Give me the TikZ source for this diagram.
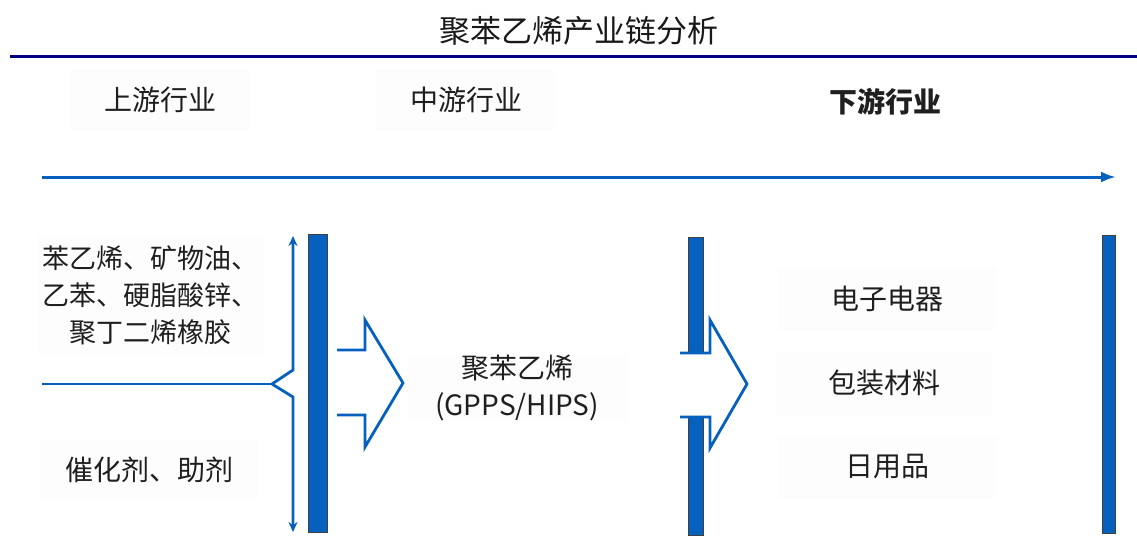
\documentclass[tikz,border=0pt]{standalone}
\usepackage{fontspec}
\setmainfont{Noto Sans CJK SC}
\usetikzlibrary{arrows.meta}
\definecolor{barblue}{RGB}{6,96,190}
\definecolor{navyline}{RGB}{0,0,128}
\definecolor{boxbg}{RGB}{253,253,253}
\begin{document}
\begin{tikzpicture}[x=1pt,y=-1pt,
  lbl/.style={font=\fontsize{28}{37}\selectfont, text=black!88, align=center, inner sep=0pt},
  bg/.style={fill=boxbg, draw=none},
  bar/.style={fill=barblue, draw=black!75, line width=0.9pt},
  bigarrow/.style={draw=barblue, line width=2.8pt, line join=miter},
  thinblue/.style={draw=barblue, line width=2.8pt}
  ]
\useasboundingbox (0,0) rectangle (1137,551);

% title and rule
\node[font=\fontsize{31}{36}\selectfont, text=black!90] (title) at (579,31) {聚苯乙烯产业链分析};
\coordinate (ruleL) at (10,57);
\coordinate (ruleR) at (1137,57);
\draw[navyline, line width=3pt] (ruleL) -- (ruleR);

% headers
\node[lbl, bg, minimum width=180, minimum height=60] (up) at (160,100) {上游行业};
\node[lbl, bg, minimum width=180, minimum height=60] (mid) at (466,100) {中游行业};
\node[lbl, font=\fontsize{28}{37}\selectfont\bfseries] (down) at (885,102) {下游行业};

% axis arrow
\coordinate (axL) at (42,177);
\coordinate (axR) at (1116,177);
\draw[barblue, line width=3pt, -{Latex[length=15,width=11]}] (axL) -- (axR);

% upstream labels
\node[lbl, bg, minimum width=225, minimum height=120, font=\fontsize{27}{37}\selectfont] (raw) at (150,295) {苯乙烯、矿物油、\\乙苯、硬脂酸锌、\\聚丁二烯橡胶};
\node[lbl, bg, minimum width=218, minimum height=60] (cat) at (149,470) {催化剂、助剂};

% double arrow with notch
\coordinate (vt) at (293,236);
\coordinate (vb) at (293,532);
\coordinate (n1) at (293,370);
\coordinate (notch) at (272,384);
\coordinate (n2) at (293,397);
\coordinate (hl) at (42,384);
\draw[thinblue, line join=miter, {Stealth[length=10,width=9]}-{Stealth[length=10,width=9]}] (vt) -- (n1) -- (notch) -- (n2) -- (vb);
\draw[thinblue] (hl) -- (notch);

% bars
\draw[bar] (308,234) rectangle (327,532);
\draw[bar] (688,237) rectangle (703,535);
\draw[bar] (1102,235) rectangle (1115,533);

% midstream label
\node[lbl, bg, minimum width=220, minimum height=62] (ps) at (517,388) {聚苯乙烯\\(GPPS/HIPS)};

% big arrow 1
\fill[white] (337,350) -- (365,350) -- (365,320) -- (403,383) -- (365,447) -- (365,415) -- (337,415) -- cycle;
\draw[bigarrow] (337,350) -- (365,350) -- (365,320) -- (403,383) -- (365,447) -- (365,415) -- (337,415);

% big arrow 2 (crossing bar 2)
\fill[white] (680,353) -- (710,353) -- (710,320) -- (747,384) -- (710,448) -- (710,417) -- (680,417) -- cycle;
\draw[bigarrow] (680,353) -- (710,353) -- (710,320) -- (747,384) -- (710,448) -- (710,417) -- (680,417);

% downstream labels
\node[lbl, bg, minimum width=219, minimum height=62] (ee) at (887,299) {电子电器};
\node[lbl, bg, minimum width=218, minimum height=65] (pk) at (884,383) {包装材料};
\node[lbl, bg, minimum width=219, minimum height=61] (dy) at (887,467) {日用品};
\end{tikzpicture}
\end{document}
